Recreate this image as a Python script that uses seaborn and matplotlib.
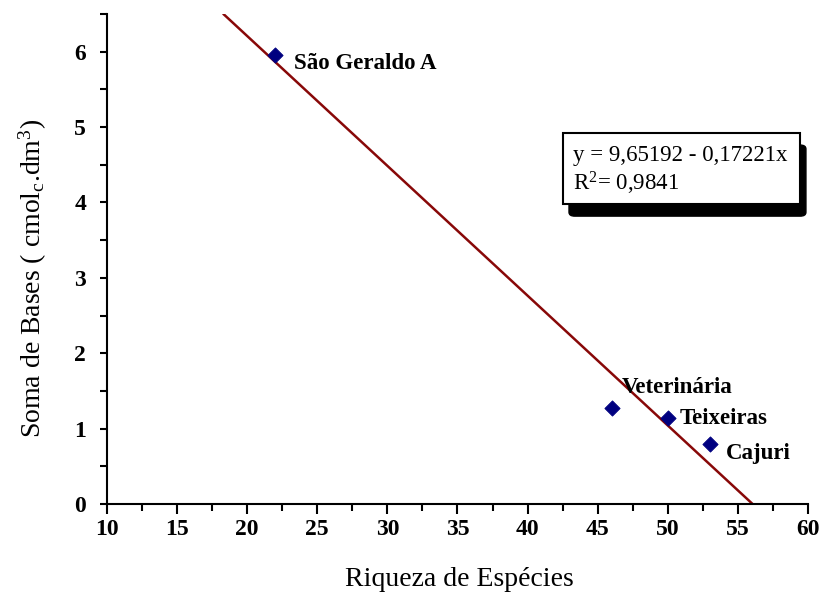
import matplotlib
matplotlib.use("Agg")
import matplotlib.pyplot as plt
import seaborn as sns
import pandas as pd
import numpy as np
from matplotlib.patches import FancyBboxPatch, Rectangle
from matplotlib.ticker import MultipleLocator

sites = ["São Geraldo A", "Veterinária", "Teixeiras", "Cajuri"]
riqueza = [22, 46, 50, 53]
soma_bases = [5.96, 1.27, 1.14, 0.80]
label_offsets = [(19, -9), (10, 21), (12, 0), (16, -10)]
intercept = 9.65192
slope = -0.17221
r2 = 0.9841

sns.set_theme(style="ticks")
plt.rcParams['font.family'] = ['Liberation Serif', 'DejaVu Serif']
plt.rcParams['text.color'] = 'black'
plt.rcParams['axes.labelcolor'] = 'black'
plt.rcParams['xtick.color'] = 'black'
plt.rcParams['ytick.color'] = 'black'
plt.rcParams['mathtext.fontset'] = 'custom'
plt.rcParams['mathtext.rm'] = 'Liberation Serif'
plt.rcParams['mathtext.it'] = 'Liberation Serif:italic'
plt.rcParams['mathtext.bf'] = 'Liberation Serif:bold'

fig = plt.figure(figsize=(8.2, 5.94), dpi=100)
ax = fig.add_axes([107/820, 90/594, 701/820, 490/594])

ymax = 6.5
x_top = (ymax - intercept) / slope
x_zero = -intercept / slope
line_df = pd.DataFrame({"x": [x_top, x_zero]})
line_df["y"] = intercept + slope * line_df["x"]
sns.lineplot(data=line_df, x="x", y="y", ax=ax, color="#880808", linewidth=1.8)

df = pd.DataFrame({"site": sites, "x": riqueza, "y": soma_bases})
sns.scatterplot(data=df, x="x", y="y", ax=ax, marker="D", s=60, color="#000080",
                edgecolor="#000080", zorder=5)

for s, xv, yv, off in zip(sites, riqueza, soma_bases, label_offsets):
    ax.annotate(s, (xv, yv), xytext=off, textcoords="offset pixels",
                ha="left", va="center", fontsize=16.5, fontweight="bold", color="black")

ax.set_xlim(10, 60)
ax.set_ylim(0, ymax)
ax.xaxis.set_major_locator(MultipleLocator(5))
ax.xaxis.set_minor_locator(MultipleLocator(2.5))
ax.yaxis.set_major_locator(MultipleLocator(1))
ax.yaxis.set_minor_locator(MultipleLocator(0.5))
ax.tick_params(axis="x", which="major", direction="out", length=7, width=1.5,
               labelsize=17, pad=4)
ax.tick_params(axis="y", which="major", direction="out", length=5, width=1.5,
               labelsize=17, pad=10)
ax.tick_params(axis="both", which="minor", direction="out", length=5, width=1.5)
for t in ax.get_xticklabels() + ax.get_yticklabels():
    t.set_fontweight("bold")
for side in ["top", "right"]:
    ax.spines[side].set_visible(False)
for side in ["left", "bottom"]:
    ax.spines[side].set_linewidth(1.5)
    ax.spines[side].set_color("black")

ax.set_xlabel("Riqueza de Espécies", fontsize=20)
ax.set_ylabel(r"Soma de Bases ( cmol$_{\mathrm{c}}$.dm$^{3}$)", fontsize=20)
ax.xaxis.set_label_coords(0.503, -0.128)
ax.yaxis.set_label_coords(-0.083, 0.461)

# Equation box with shadow
bx0, by0, bw, bh = 0.6505, 0.612, 0.338, 0.145
sx, sy = 6/701, -12/490
shadow = FancyBboxPatch((bx0 + sx, by0 + sy), bw, bh, boxstyle="round,pad=0,rounding_size=0.008",
                        transform=ax.transAxes, facecolor="black", edgecolor="black",
                        clip_on=False, zorder=6)
box = Rectangle((bx0, by0), bw, bh, transform=ax.transAxes, facecolor="white",
                edgecolor="black", linewidth=1.5, clip_on=False, zorder=7)
ax.add_patch(shadow)
ax.add_patch(box)
eq = "y = " + f"{intercept:.5f}".replace(".", ",") + " - " + f"{-slope:.5f}".replace(".", ",") + "x"
ax.text(bx0 + 10/701, by0 + bh - 22/490, eq,
        transform=ax.transAxes, fontsize=16.5, ha="left", va="center", zorder=8)
ax.text(bx0 + 10/701, by0 + 21/490, r"R$^{2}$= " + f"{r2:.4f}".replace(".", ","),
        transform=ax.transAxes, fontsize=16.5, ha="left", va="center", zorder=8)

fig.savefig("out.png", dpi=100)
